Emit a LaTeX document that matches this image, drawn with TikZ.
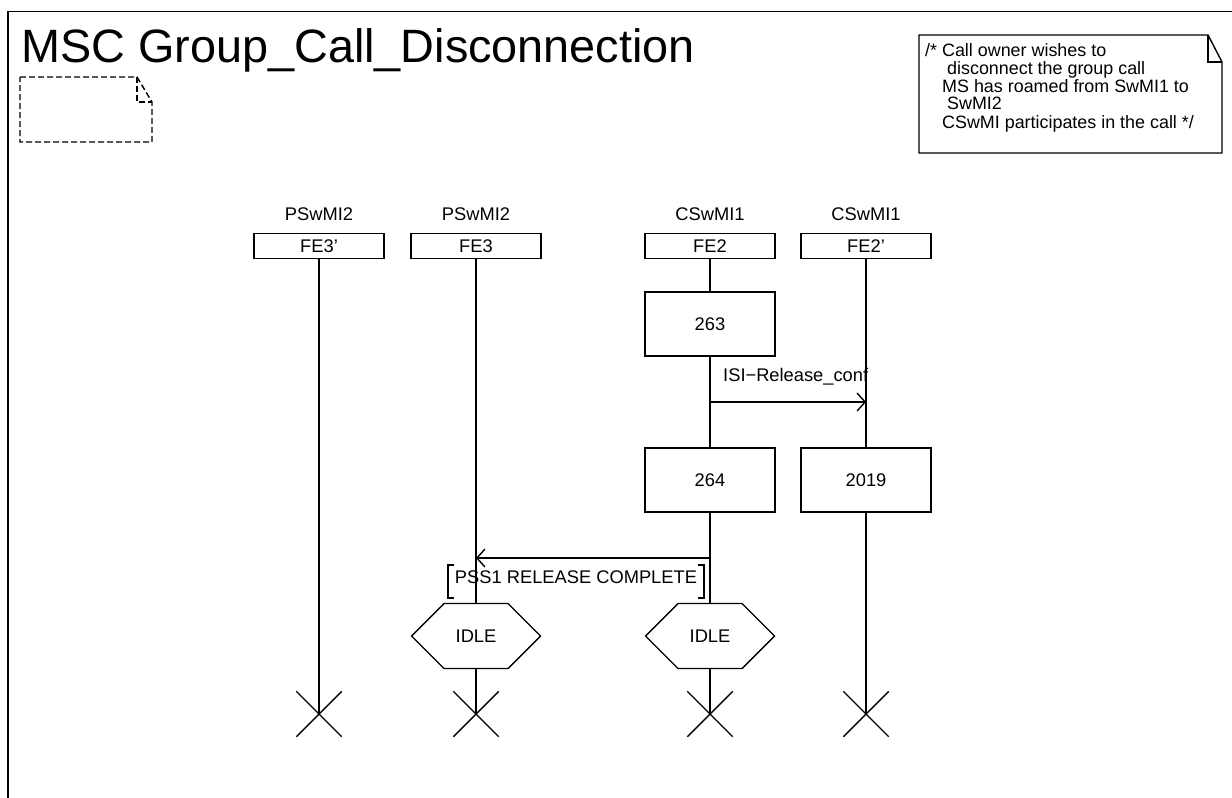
\documentclass[tikz,border=0pt]{standalone}
\usepackage{fontspec}
\setmainfont{Liberation Sans}
\usetikzlibrary{arrows.meta,shapes.symbols,shapes.misc}
\begin{document}
\begin{tikzpicture}[x=1pt,y=-1pt,
  every node/.style={font=\fontsize{18.3}{19}\selectfont, inner sep=0pt},
  ln/.style={line width=1.4pt},
  headbox/.style={draw, line width=1.4pt, minimum width=130pt, minimum height=25pt},
  actbox/.style={draw, line width=1.4pt, fill=white, minimum width=130pt, minimum height=64pt},
  idlestate/.style={draw, line width=1.4pt, signal, signal to=east and west, signal pointer angle=90, minimum width=129pt, minimum height=65pt},
  stopx/.style={draw, line width=1.4pt, cross out, minimum size=44pt},
  msg/.style={line width=1.4pt, -{Straight Barb[length=8pt,width=18pt,line width=1.4pt]}},
  notebox/.style={line width=1.4pt}]
\useasboundingbox (0,0) rectangle (1232,798);
% frame
\draw[line width=1.8pt] (8,798) -- (8,11.5) -- (1232,11.5);
\node[anchor=base west, font=\fontsize{46.8}{50}\selectfont] (title) at (21,62) {MSC Group\_Call\_Disconnection};
% dashed note
\draw[ln, dash pattern=on 6pt off 3pt] (20,77) -- (137,77) -- (152,102) -- (152,142) -- (20,142) -- cycle;
\draw[ln, dash pattern=on 6pt off 3pt] (137,77) -- (137,102) -- (152,102);
% comment
\draw[notebox] (919,35) -- (1208,35) -- (1222,62) -- (1222,153) -- (919,153) -- cycle;
\draw[notebox] (1208,35) -- (1208,62) -- (1222,62);
\node[anchor=base west, font=\fontsize{17.9}{19}\selectfont] (c1) at (925,56) {/* Call owner wishes to};
\node[anchor=base west, font=\fontsize{17.9}{19}\selectfont] (c2) at (947,74) {disconnect the group call};
\node[anchor=base west, font=\fontsize{17.9}{19}\selectfont] (c3) at (942,92) {MS has roamed from SwMI1 to};
\node[anchor=base west, font=\fontsize{17.9}{19}\selectfont] (c4) at (947,109) {SwMI2};
\node[anchor=base west, font=\fontsize{17.9}{19}\selectfont] (c5) at (942,128) {CSwMI participates in the call */};
% instance heads
\node[anchor=base] (l1) at (319,220) {PSwMI2};
\node[anchor=base] (l2) at (476,220) {PSwMI2};
\node[anchor=base] (l3) at (710,220) {CSwMI1};
\node[anchor=base] (l4) at (866,220) {CSwMI1};
\node[headbox] (h1) at (319,246) {FE3'};
\node[headbox] (h2) at (476,246) {FE3};
\node[headbox] (h3) at (710,246) {FE2};
\node[headbox] (h4) at (866,246) {FE2'};
% actions
\node[actbox] (a263) at (710,324) {263};
\node[actbox] (a264) at (710,480) {264};
\node[actbox] (a2019) at (866,480) {2019};
% states
\node[idlestate] (s1) at (476,636) {IDLE};
\node[idlestate] (s2) at (710,636) {IDLE};
% stops
\node[stopx] (x1) at (319,714) {};
\node[stopx] (x2) at (476,714) {};
\node[stopx] (x3) at (710,714) {};
\node[stopx] (x4) at (866,714) {};
% lifelines
\draw[ln] (h1.south) -- (x1.center);
\draw[ln] (h2.south) -- (s1.north);
\draw[ln] (s1.south) -- (x2.center);
\draw[ln] (h3.south) -- (a263.north);
\draw[ln] (a263.south) -- (a264.north);
\draw[ln] (a264.south) -- (s2.north);
\draw[ln] (s2.south) -- (x3.center);
\draw[ln] (h4.south) -- (a2019.north);
\draw[ln] (a2019.south) -- (x4.center);
% messages
\coordinate (m1a) at (710,402);
\coordinate (m1b) at (866,402);
\draw[msg] (m1a) -- (m1b);
\node[anchor=base west] (m1l) at (723,381) {ISI−Release\_conf};
\coordinate (m2a) at (710,558);
\coordinate (m2b) at (476,558);
\draw[msg] (m2a) -- (m2b);
\node[anchor=base] (m2l) at (576,583) {PSS1 RELEASE COMPLETE};
\draw[ln] (454,565) -- (448,565) -- (448,598) -- (454,598);
\draw[ln] (698,565) -- (704,565) -- (704,598) -- (698,598);
\end{tikzpicture}
\end{document}
